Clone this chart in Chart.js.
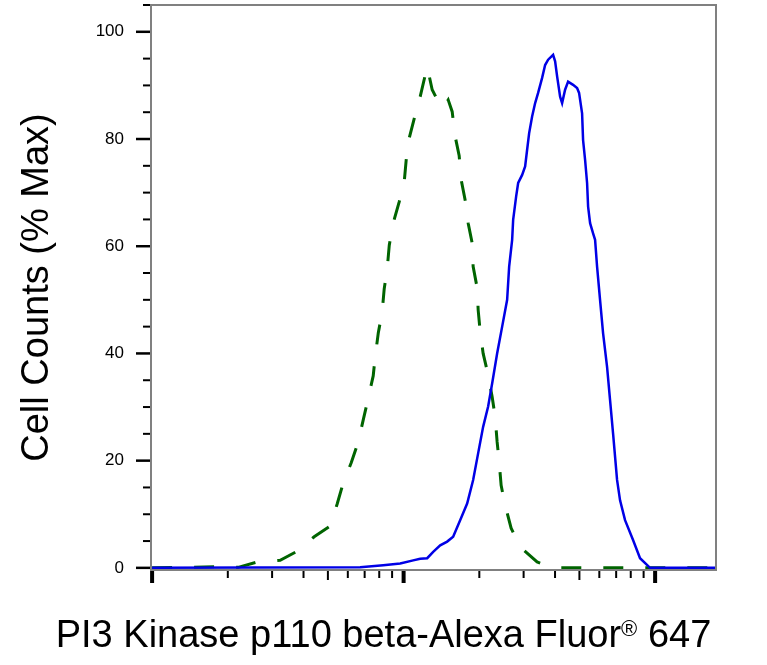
<!DOCTYPE html>
<html><head><meta charset="utf-8">
<script src="https://cdn.jsdelivr.net/npm/chart.js@4.4.1/dist/chart.umd.min.js"></script>
<style>html,body{margin:0;padding:0;background:#fff;}#wrap{width:767px;height:665px;position:relative;}</style>
</head><body><div id="wrap"><canvas id="c"></canvas></div>
<script>
// Fluorescence intensity (log axis) and % Max cell counts
const blueX = [100,672,830,969,1092,1164,1241,1311,1398,1490,1574,1678,1789,1890,1979,2071,2168,2249,2354,2465,2580,2628,2701,2726,2802,2854,2960,3042,3098,3156,3243,3334,3426,3554,3653,3755,3930,4003,4077,4190,4268,4386,4508,4719,4895,4985,5124,5171,5267,5364,5414,5514,5667,5772,5878,6040,6209,6441,6620,6804,7058,7254,7593,8170,8710,9545,17460];
const blueY = [0,0.1,0.5,0.8,1.4,1.7,1.8,3.0,4.2,4.9,5.8,8.9,12.0,16.4,21.4,26.3,30.1,34.4,40.0,45.0,50.0,56.2,61.2,64.9,69.3,71.8,73.3,74.9,78.0,81.1,84.2,86.7,88.6,91.4,93.8,94.8,95.7,94.5,91.7,87.9,86.7,89.2,90.7,90.1,89.5,88.6,84.8,79.8,76.1,71.8,67.4,64.3,62.4,61.2,56.2,50.0,43.8,37.5,31.3,25.1,16.4,12.6,8.9,5.2,1.8,0,0];
const greenX = [100,178,220,262,323,381,441,511,545,575,619,660,691,723,757,771,793,822,837,861,877,909,961,1006,1024,1053,1112,1164,1241,1299,1372,1437,1504,1560,1603,1663,1694,1757,1806,1873,1890,1961,1979,2015,2071,2168,2249,2312,2354,2398,2442,2533,2676,2906,3394,3930,6040,8710,17460];
const greenY = [0,0.2,0.1,1.1,1.4,3.2,5.8,7.8,12,15.8,19.6,23.5,27.6,31.6,35.8,39.4,43.8,47.8,52,55.9,60.2,64.3,68.3,72.1,76.1,80.2,84.5,87.9,93.5,89.2,87,85.8,87.3,85.1,80.5,76.9,72.4,68.6,64.3,60.6,56.2,52.2,48.1,44.1,40,36,31.9,28.2,23.5,19.8,15.4,11.7,7.4,3.9,1.1,0,0,0,0];
const yTickValues = [0,20,40,60,80,100];
const yTickLabels = ['0','20','40','60','80','100'];
const yMinorStep = 5;
const xDecades = [100,1000,10000];
const xTitleMain = 'PI3 Kinase p110 beta-Alexa Fluor';
const xTitleMark = '®';
const xTitleEnd = ' 647';
const yTitle = 'Cell Counts (% Max)';
const X_MIN = 99, X_MAX = 17460, Y_MIN = -0.4, Y_MAX = 105;
const FONT = "'Liberation Sans', Arial, sans-serif";

const decor = {
  id: 'decor',
  afterDraw(chart) {
    const {ctx, chartArea: a, scales: {x, y}} = chart;
    ctx.save();
    ctx.strokeStyle = '#000';
    for (let v = 0; v <= Y_MAX + 1e-9; v += yMinorStep) {
      const major = yTickValues.includes(v);
      const py = y.getPixelForValue(v);
      ctx.lineWidth = major ? 2.5 : 2;
      ctx.beginPath();
      ctx.moveTo(a.left - 1, py);
      ctx.lineTo(a.left - (major ? 15 : 8), py);
      ctx.stroke();
    }
    for (const d of xDecades) {
      for (let m = 1; m <= 9; m++) {
        const v = d * m;
        if (v < X_MIN || v > X_MAX) continue;
        const px = x.getPixelForValue(v);
        const len = m === 1 ? 13 : (m === 5 ? 10 : 8);
        ctx.lineWidth = m === 1 ? 4 : 2;
        ctx.beginPath();
        ctx.moveTo(px, a.bottom);
        ctx.lineTo(px, a.bottom + len);
        ctx.stroke();
      }
    }
    ctx.strokeStyle = '#808080';
    ctx.lineWidth = 2;
    ctx.beginPath();
    ctx.moveTo(a.left, a.bottom);
    ctx.lineTo(a.left, a.top);
    ctx.lineTo(a.right, a.top);
    ctx.lineTo(a.right, a.bottom);
    ctx.closePath();
    ctx.stroke();
    // x axis title with superscript mark
    ctx.fillStyle = '#000';
    ctx.textBaseline = 'alphabetic';
    ctx.textAlign = 'left';
    const big = '38px ' + FONT, small = '22px ' + FONT;
    ctx.font = big; const w1 = ctx.measureText(xTitleMain).width; const w3 = ctx.measureText(xTitleEnd).width;
    ctx.font = small; const w2 = ctx.measureText(xTitleMark).width;
    let sx = (chart.width - (w1 + w2 + w3)) / 2;
    const base = 647;
    ctx.font = big; ctx.fillText(xTitleMain, sx, base); sx += w1;
    ctx.font = small; ctx.fillText(xTitleMark, sx, base - 11); sx += w2;
    ctx.font = big; ctx.fillText(xTitleEnd, sx, base);
    ctx.restore();
  }
};

new Chart(document.getElementById('c'), {
  type: 'scatter',
  data: {
    datasets: [
      { label: 'p110 beta', data: blueX.map((v, i) => ({x: v, y: blueY[i]})), showLine: true,
        borderColor: '#0000e6', borderWidth: 2.5, pointRadius: 0, tension: 0, fill: false },
      { label: 'Isotype', data: greenX.map((v, i) => ({x: v, y: greenY[i]})), showLine: true,
        borderColor: '#006400', borderWidth: 3, borderDash: [20, 22], pointRadius: 0, tension: 0, fill: false }
    ]
  },
  options: {
    responsive: true, maintainAspectRatio: false, animation: false,
    layout: { padding: { top: 5, right: 51, left: 0, bottom: 0 } },
    plugins: { legend: { display: false }, tooltip: { enabled: false } },
    scales: {
      x: {
        type: 'logarithmic', min: X_MIN, max: X_MAX,
        ticks: { display: false }, grid: { display: false, drawTicks: false }, border: { display: false },
        afterFit(s) { s.height = 95; s.paddingLeft = 0; s.paddingRight = 0; s.paddingTop = 0; s.paddingBottom = 0; }
      },
      y: {
        type: 'linear', min: Y_MIN, max: Y_MAX,
        afterBuildTicks(s) { s.ticks = yTickValues.map(v => ({value: v})); },
        ticks: { padding: 27, color: '#000', font: { size: 17, family: FONT }, callback: (v, i) => yTickLabels[i] },
        grid: { display: false, drawTicks: false }, border: { display: false },
        title: { display: true, text: yTitle, color: '#000', font: { size: 38, family: FONT }, padding: { top: 15, bottom: 0 } },
        afterFit(s) { s.width = 151; s.paddingTop = 0; s.paddingBottom = 0; s.paddingLeft = 0; s.paddingRight = 0; }
      }
    }
  },
  plugins: [decor]
});
</script></body></html>
